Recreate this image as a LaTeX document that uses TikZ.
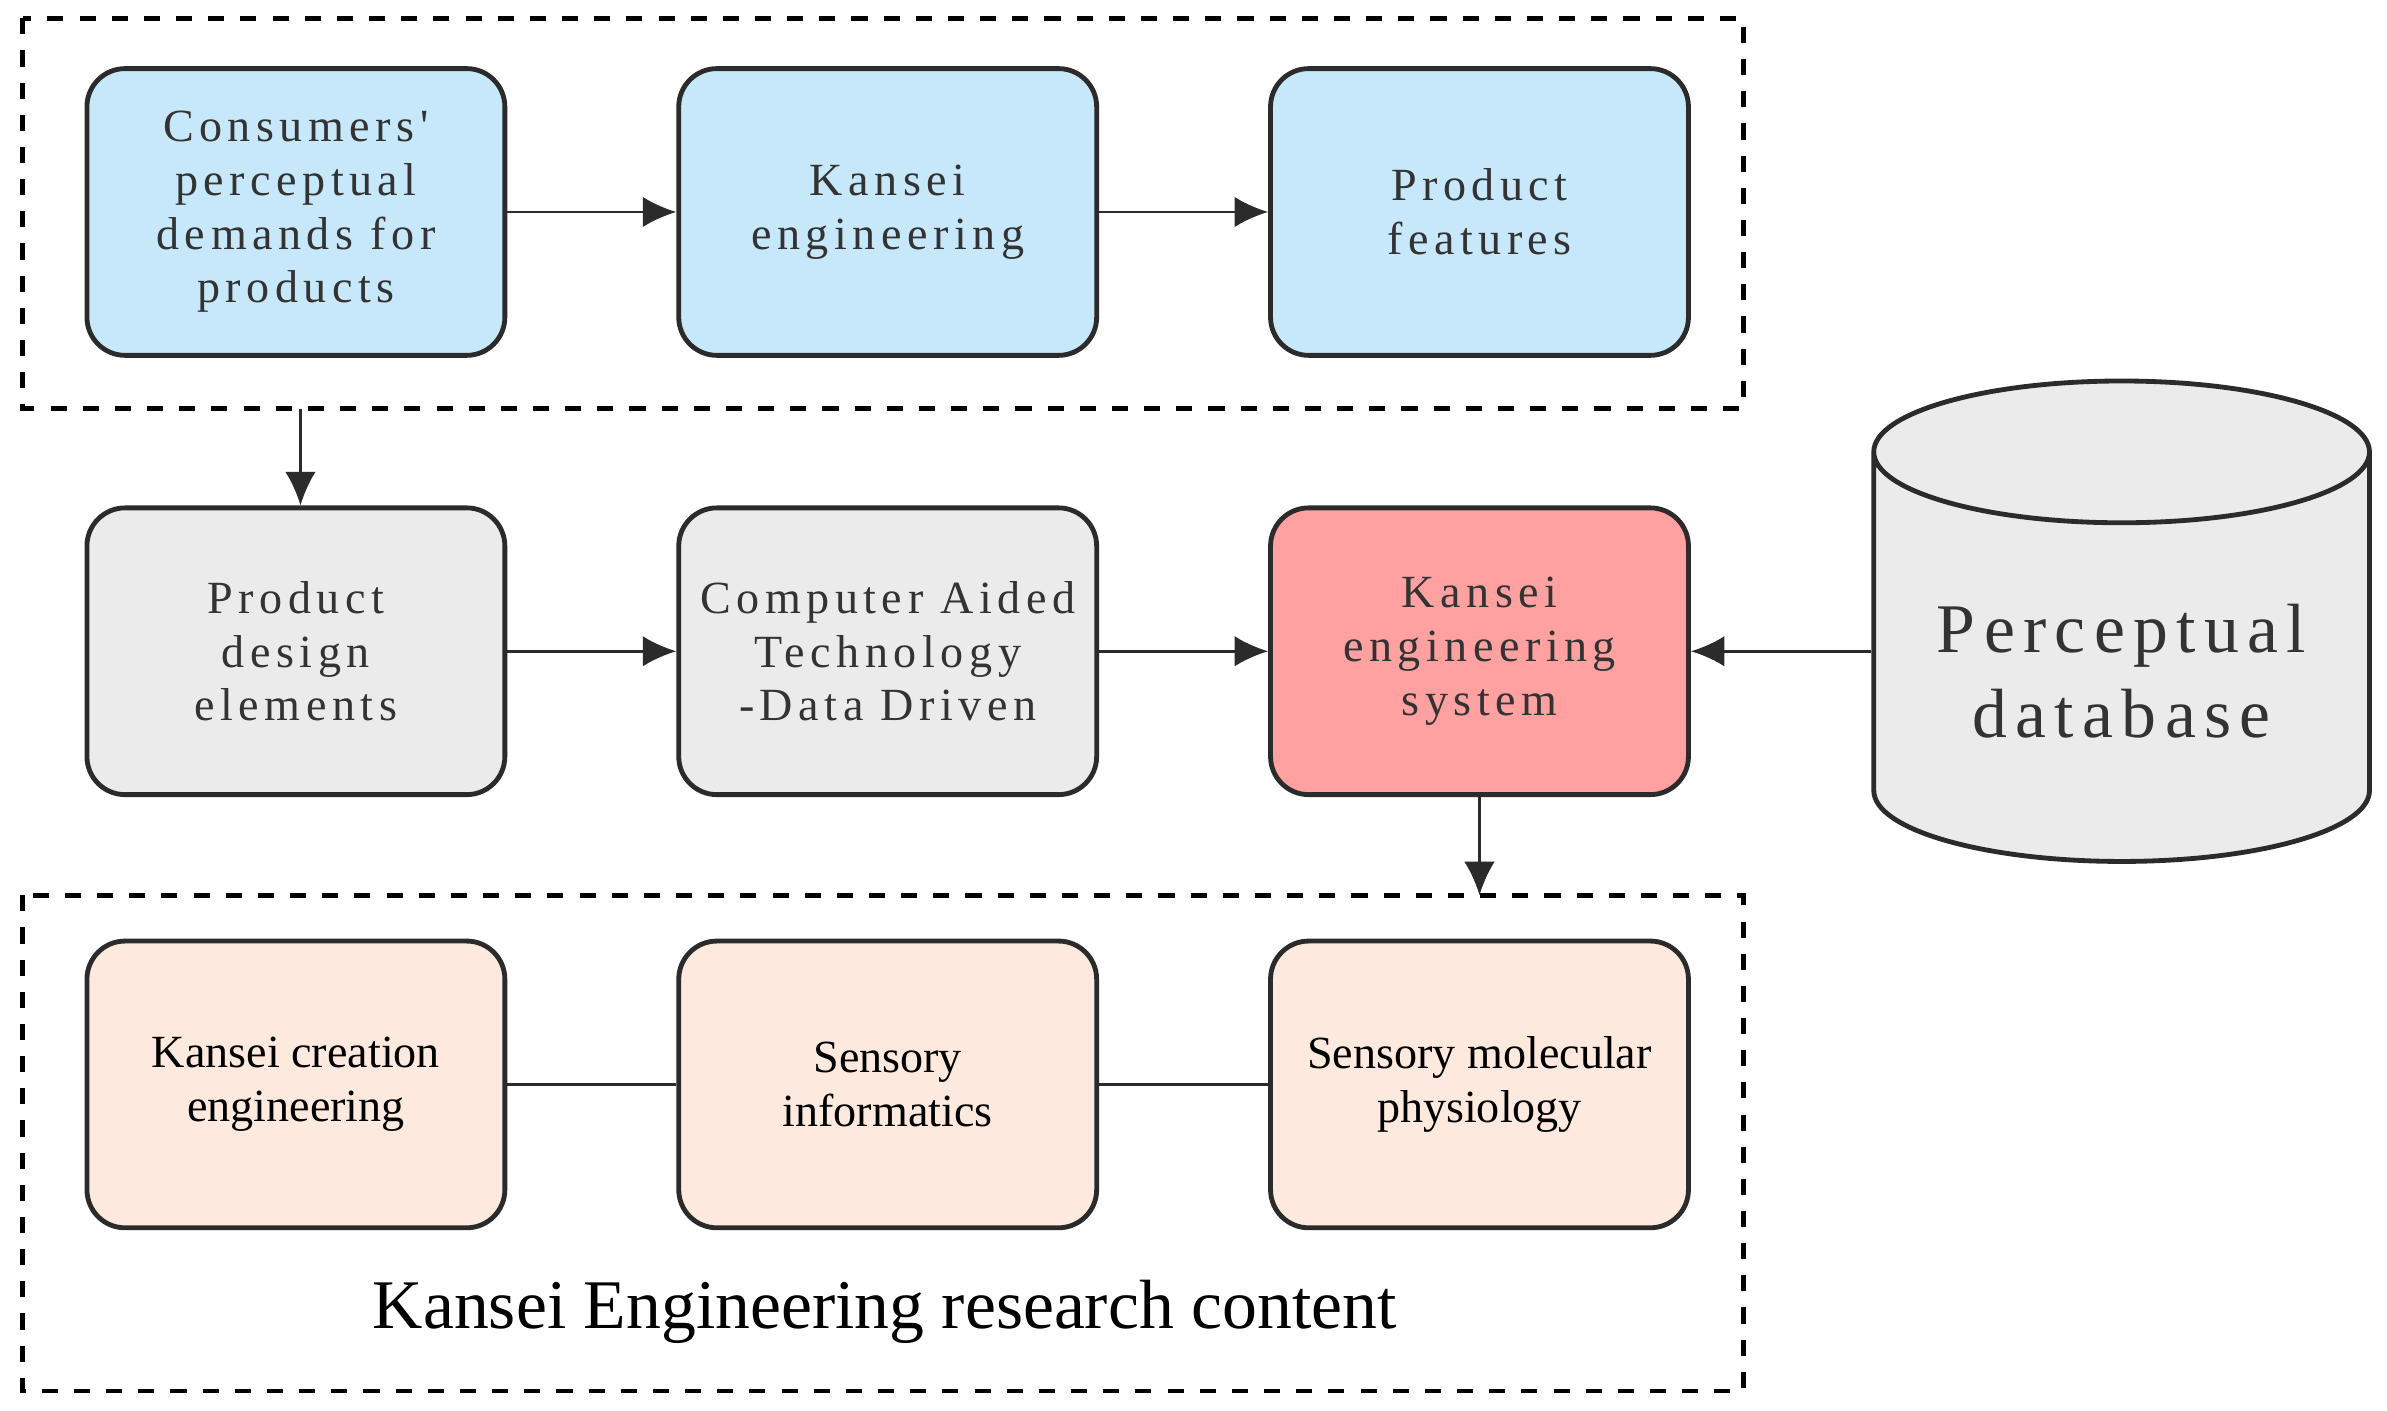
\documentclass[tikz,border=0pt]{standalone}
\usepackage{fontspec}
\setmainfont{Liberation Serif}
\newfontfamily\spaced{Liberation Serif}[LetterSpace=12]
\usetikzlibrary{shapes.geometric,arrows.meta}
\definecolor{boxblue}{HTML}{C6E8FA}
\definecolor{boxgray}{HTML}{EBEBEB}
\definecolor{boxred}{HTML}{FFA1A1}
\definecolor{boxpeach}{HTML}{FDE9DD}
\definecolor{edge}{HTML}{2B2B2B}
\begin{document}
\begin{tikzpicture}[
  >=latex,
  stage/.style={rectangle, rounded corners=0.25cm, draw=edge, line width=0.9pt, minimum width=2.74cm, minimum height=1.88cm, align=center, font=\spaced\fontsize{8.6}{10}\selectfont, text=black!80},
  topic/.style={stage, font=\fontsize{8.6}{10}\selectfont, text=black},
  arrow/.style={-{Latex[length=0.22cm,width=0.2cm]}, line width=0.5pt, draw=edge},
  link/.style={line width=0.5pt, draw=edge},
  group/.style={draw=black, dashed, line width=0.9pt}
]
\useasboundingbox (0,0) rectangle (15.65,-9.25);

% Groups
\draw[group] (0.15,-0.12) rectangle (11.43,-2.68);
\draw[group] (0.15,-5.87) rectangle (11.43,-9.12);

% Top row
\node[stage, fill=boxblue] (demands) at (1.94,-1.39) {Consumers'\\perceptual\\demands for\\products};
\node[stage, fill=boxblue] (kansei) at (5.82,-1.39) {Kansei\\engineering};
\node[stage, fill=boxblue] (features) at (9.70,-1.39) {Product\\features};

% Middle row
\node[stage, fill=boxgray] (elements) at (1.94,-4.27) {Product\\design\\elements};
\node[stage, fill=boxgray] (cat) at (5.82,-4.27) {Computer Aided\\Technology\\-Data Driven};
\node[stage, fill=boxred] (system) at (9.70,-4.27) {Kansei\\engineering\\system};

% Database
\node[cylinder, shape border rotate=90, aspect=0.35, draw=edge, line width=0.9pt, fill=boxgray, minimum width=3.25cm, minimum height=3.15cm, font=\spaced\fontsize{13}{16}\selectfont, align=center, text=black!80] (db) at (13.91,-4.4) {Perceptual\\database};

% Bottom row
\node[topic, fill=boxpeach] (creation) at (1.94,-7.11) {Kansei creation\\engineering};
\node[topic, fill=boxpeach] (informatics) at (5.82,-7.11) {Sensory\\informatics};
\node[topic, fill=boxpeach] (physiology) at (9.70,-7.11) {Sensory molecular\\physiology};
\node[font=\fontsize{13}{15}\selectfont] (content) at (5.8,-8.6) {Kansei Engineering research content};

% Arrows
\coordinate (topout) at (1.97,-2.68);
\coordinate (botin) at (9.70,-5.87);
\draw[arrow] (demands) -- (kansei);
\draw[arrow] (kansei) -- (features);
\draw[arrow] (topout) -- (elements.north -| topout);
\draw[arrow] (elements) -- (cat);
\draw[arrow] (cat) -- (system);
\draw[arrow] (db.west |- system) -- (system);
\draw[arrow] (system) -- (botin);
\draw[link] (creation) -- (informatics);
\draw[link] (informatics) -- (physiology);

\end{tikzpicture}
\end{document}
